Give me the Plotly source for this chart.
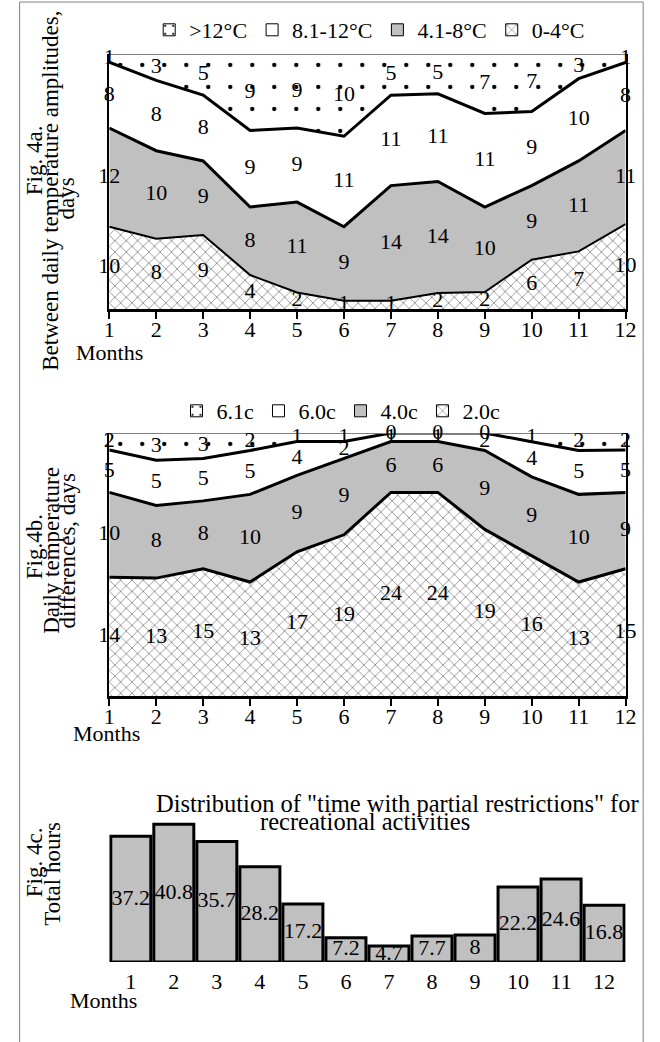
import plotly.graph_objects as go

# ---------------- DATA ----------------
months = list(range(1, 13))
month_labels = [str(m) for m in months]

# Fig. 4a - days per month by daily temperature amplitude class (top class first)
amp_names = [">12°C", "8.1-12°C", "4.1-8°C", "0-4°C"]
amp_gt12 = [1, 3, 5, 9, 9, 10, 5, 5, 7, 7, 3, 1]
amp_8_12 = [8, 8, 8, 9, 9, 11, 11, 11, 11, 9, 10, 8]
amp_4_8 = [12, 10, 9, 8, 11, 9, 14, 14, 10, 9, 11, 11]
amp_0_4 = [10, 8, 9, 4, 2, 1, 1, 2, 2, 6, 7, 10]

# Fig. 4b - days per month by daily temperature difference class (top class first)
dif_names = ["6.1c", "6.0c", "4.0c", "2.0c"]
dif_61 = [2, 3, 3, 2, 1, 1, 0, 0, 0, 1, 2, 2]
dif_60 = [5, 5, 5, 5, 4, 2, 1, 1, 2, 4, 5, 5]
dif_40 = [10, 8, 8, 10, 9, 9, 6, 6, 9, 9, 10, 9]
dif_20 = [14, 13, 15, 13, 17, 19, 24, 24, 19, 16, 13, 15]

# Fig. 4c - total hours with partial restrictions
hours = [37.2, 40.8, 35.7, 28.2, 17.2, 7.2, 4.7, 7.7, 8, 22.2, 24.6, 16.8]

# ---------------- STYLE ----------------
W, H = 660, 1042
FONT = "Liberation Serif"
FS = 22


def px(x):
    return x / W


def py(y):
    return 1 - y / H


ZIG = dict(shape="x", size=8, solidity=0.2, fgcolor="#8c8c8c", bgcolor="white", fillmode="replace")
DOTS = dict(shape=".", size=22, solidity=0.03, fgcolor="black", bgcolor="white", fillmode="replace")


def layer_styles(bottom_line_width):
    # bottom layer first: zigzag, grey, white, dotted
    return [
        dict(fillcolor="white", line=dict(color="black", width=bottom_line_width), pattern=ZIG),
        dict(fillcolor="#C0C0C0", line=dict(color="black", width=3), pattern=None),
        dict(fillcolor="white", line=dict(color="black", width=3), pattern=None),
        dict(fillcolor="white", line=dict(color="#808080", width=2), pattern=DOTS),
    ]


fig = go.Figure()


def add_panel(series_bottom_up, names_bottom_up, xa, ya, leg, group, styles):
    totals = [sum(v) for v in zip(*series_bottom_up)]
    # stacked areas (normalised to 100 %)
    for vals, name, st in zip(series_bottom_up, names_bottom_up, styles):
        kw = {}
        if st["pattern"] is not None:
            kw["fillpattern"] = st["pattern"]
        fig.add_trace(go.Scatter(
            x=months, y=vals, name=name, stackgroup=group, groupnorm="percent",
            mode="lines", line=st["line"], fillcolor=st["fillcolor"],
            showlegend=False, hoverinfo="skip", xaxis=xa, yaxis=ya, **kw))
    # data labels in the middle of every band
    cum = [0] * len(months)
    for vals in series_bottom_up:
        mids = [(c + v / 2) / t * 100 for c, v, t in zip(cum, vals, totals)]
        cum = [c + v for c, v in zip(cum, vals)]
        fig.add_trace(go.Scatter(
            x=months, y=mids, mode="text", text=[str(v) for v in vals],
            textfont=dict(family=FONT, size=22, color="black"),
            cliponaxis=False, showlegend=False, hoverinfo="skip",
            xaxis=xa, yaxis=ya))
    # legend keys (top class first)
    for name, st in reversed(list(zip(names_bottom_up, styles))):
        mk = dict(color=st["fillcolor"], line=dict(color="black", width=1))
        if st["pattern"] is not None:
            p = dict(st["pattern"])
            if p["shape"] == ".":
                p["size"] = 10
                p["solidity"] = 0.06
            mk["pattern"] = p
        fig.add_trace(go.Bar(x=[None], y=[None], name=name, marker=mk,
                             legend=leg, xaxis=xa, yaxis=ya, hoverinfo="skip"))


add_panel([amp_0_4, amp_4_8, amp_8_12, amp_gt12], amp_names[::-1], "x", "y", "legend", "a",
          layer_styles(2))
add_panel([dif_20, dif_40, dif_60, dif_61], dif_names[::-1], "x2", "y2", "legend2", "b",
          layer_styles(3))

# Fig. 4c bars
fig.add_trace(go.Bar(
    x=months, y=hours, marker=dict(color="#C0C0C0", line=dict(color="black", width=3)),
    width=0.93, showlegend=False, hoverinfo="skip", xaxis="x3", yaxis="y3"))
fig.add_trace(go.Scatter(
    x=months, y=[h / 2 for h in hours], mode="text", text=[f"{h:g}" for h in hours],
    textfont=dict(family=FONT, size=22, color="black"), cliponaxis=False,
    showlegend=False, hoverinfo="skip", xaxis="x3", yaxis="y3"))

# ---------------- AXES ----------------
xdom = [px(106), px(636)]
tickfont = dict(family=FONT, size=FS, color="black")
area_x = dict(domain=xdom, range=[1, 12], tickmode="array", tickvals=months, ticktext=month_labels,
              showline=True, linecolor="black", linewidth=3, ticks="outside", ticklen=7,
              tickwidth=2, tickcolor="black", showgrid=False, zeroline=False, tickfont=tickfont,
              ticklabelstandoff=-8)
area_y = dict(range=[0, 100], showticklabels=False, showgrid=False, zeroline=False,
              showline=True, mirror=True, linecolor="black", linewidth=2, ticks="")

fig.update_layout(
    xaxis=dict(area_x, anchor="y"),
    yaxis=dict(area_y, domain=[py(309), py(54)], anchor="x"),
    xaxis2=dict(area_x, anchor="y2"),
    yaxis2=dict(area_y, domain=[py(696), py(433)], anchor="x2"),
    xaxis3=dict(domain=xdom, range=[0.5, 12.5], anchor="y3", tickmode="array", tickvals=months,
                ticktext=month_labels, showline=False, ticks="", showgrid=False, zeroline=False,
                tickfont=tickfont, ticklabelstandoff=4),
    yaxis3=dict(domain=[py(962), py(810)], range=[0, 45], anchor="x3", showticklabels=False,
                showgrid=False, zeroline=False, showline=False, ticks=""),
)

# ---------------- LEGENDS ----------------
legfont = dict(family=FONT, size=FS, color="black")
fig.update_layout(
    legend=dict(orientation="h", x=px(147), y=py(30), xanchor="left", yanchor="middle",
                font=legfont, bgcolor="rgba(0,0,0,0)", itemwidth=30, traceorder="normal"),
    legend2=dict(orientation="h", x=px(175), y=py(411), xanchor="left", yanchor="middle",
                 font=legfont, bgcolor="rgba(0,0,0,0)", itemwidth=30, traceorder="normal",
                 entrywidth=37),
)

# ---------------- TEXT ----------------
ann = []


def text(t, x, y, angle=0, size=FS, xanchor="center"):
    ann.append(dict(text=t, x=px(x), y=py(y), xref="paper", yref="paper", showarrow=False,
                    textangle=angle, xanchor=xanchor, yanchor="middle",
                    font=dict(family=FONT, size=size, color="black")))


# rotated axis titles (one annotation per line to keep the tight line spacing)
text("Fig. 4a.", 29, 160, -90, 23)
text("Between daily temperature amplitudes,", 46, 191, -90, 23)
text("days", 63, 198, -90, 23)
text("Fig.4b.", 29, 547, -90, 23)
text("Daily temperature", 46, 550, -90, 23)
text("differences, days", 63, 551, -90, 23)
text("Fig. 4c.", 29, 862, -90, 23)
text("Total hours", 47, 874, -90, 23)

# x-axis titles
text("Months", 106, 352)
text("Months", 103, 733)
text("Months", 100, 1000)

# Fig. 4c title
text('Distribution of "time with partial restrictions" for', 402, 803, 0, 24.5)
text("recreational activities", 368, 821, 0, 24.5)

fig.update_layout(
    annotations=ann,
    shapes=[dict(type="rect", xref="paper", yref="paper", x0=px(14), x1=px(654),
                 y0=-0.05, y1=py(2), line=dict(color="#808080", width=1), fillcolor="rgba(0,0,0,0)",
                 layer="below")],
    width=W, height=H, margin=dict(l=0, r=0, t=0, b=0),
    paper_bgcolor="white", plot_bgcolor="white",
    barmode="overlay", showlegend=True,
    font=dict(family=FONT, size=FS, color="black"),
)

fig.write_html("out.html")
